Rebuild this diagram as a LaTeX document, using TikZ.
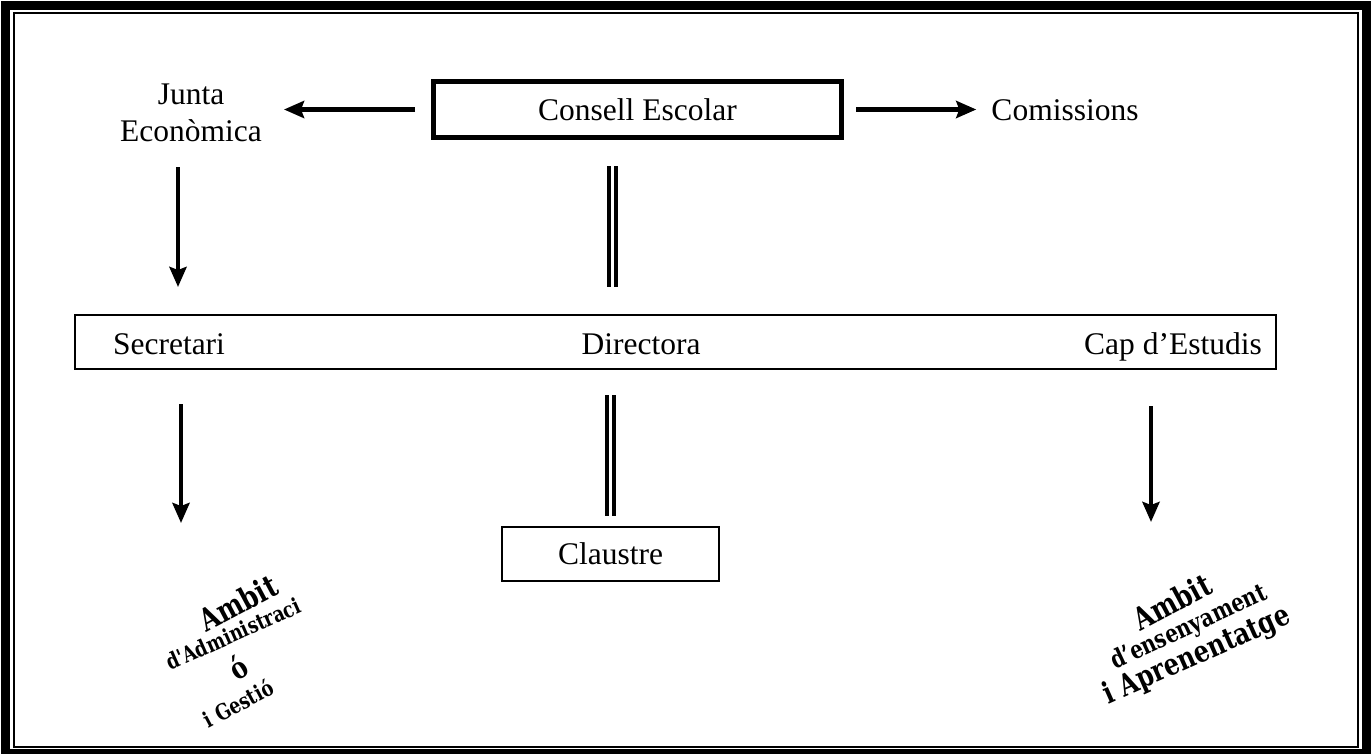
\documentclass[tikz,border=0pt]{standalone}
\usepackage{fontspec}
\usepackage{graphicx}
\setmainfont{Liberation Serif}
\newfontfamily\wafont{DejaVu Serif}
\usetikzlibrary{arrows.meta,calc}
\newcommand{\wanarrow}[1]{\scalebox{0.8}[1]{#1}}
\begin{document}
\begin{tikzpicture}[x=1pt,y=-1pt,
  txt/.style={font=\fontsize{31.5}{37}\selectfont, inner sep=0pt},
  arr/.style={line width=4.5pt, -{Stealth[length=20pt,width=17pt,inset=3pt]}},
  dbl/.style={line width=4pt, double distance=3pt, double=white},
  wa/.style={font=\wafont\bfseries\fontsize{#1}{#1}\selectfont, inner sep=0pt},
  box/.style={draw, line width=2pt, inner sep=0pt},
]
\useasboundingbox (0,0) rectangle (1372,753);
\fill[white] (0,0) rectangle (1372,753);
% frame
\draw[line width=9pt] (5.5,5) rectangle (1366.5,753.5);
\draw[line width=2pt] (14,13) rectangle (1357.5,747);
% nodes
\node[txt, draw, line width=5pt, minimum width=408pt, minimum height=56pt] (consell) at (637.5,109.5) {Consell Escolar};
\node[txt, align=center] (junta) at (191,113) {Junta\\Econòmica};
\node[txt, anchor=base] (comissions) at (1065,120) {Comissions};
\node[box, minimum width=1201pt, minimum height=54pt] (row) at (675.5,342) {};
\node[txt, anchor=base] (sec) at (169,354) {Secretari};
\node[txt, anchor=base] (dir) at (641,354) {Directora};
\node[txt, anchor=base] (cap) at (1173,354) {Cap d’Estudis};
\node[txt, box, minimum width=217pt, minimum height=54pt] (claustre) at (610.5,554) {Claustre};
% word art
\node[wa=31, rotate=28] (la1) at (238,603) {\wanarrow{Ambit}};
\node[wa=22, rotate=24] (la2) at (233,634) {\wanarrow{d\textquotesingle Administraci}};
\node[wa=30, rotate=32] (la3) at (238,667) {\wanarrow{ó}};
\node[wa=22, rotate=28] (la4) at (238,703) {\wanarrow{i Gestió}};
\node[wa=31, rotate=28] (ra1) at (1172,602) {\wanarrow{Ambit}};
\node[wa=25, rotate=25] (ra2) at (1189,628) {\wanarrow{d’ensenyament}};
\node[wa=30, rotate=24] (ra3) at (1197,656) {\wanarrow{i Aprenentatge}};
% connectors
\draw[arr] ([xshift=-16pt]consell.west) -- ([xshift=-147pt]consell.west);
\draw[arr, shorten >=15pt] ([xshift=12pt]consell.east) -- (consell.east -| comissions.west);
\draw[arr] ($(junta.south)+(-13,25)$) -- ($(junta.south |- row.north)+(-13,-27)$);
\draw[dbl] ($(consell.south)+(-25,26)$) -- ($(consell.south |- row.north)+(-25,-27)$);
\draw[arr] ($(row.south -| sec)+(12,34)$) -- ($(row.south -| sec)+(12,153)$);
\draw[dbl] ($(row.south -| claustre)+(0,25)$) -- ($(claustre.north)+(0,-10)$);
\draw[arr] ($(row.south -| cap)+(-22,36)$) -- ($(row.south -| cap)+(-22,152)$);
\end{tikzpicture}
\end{document}
